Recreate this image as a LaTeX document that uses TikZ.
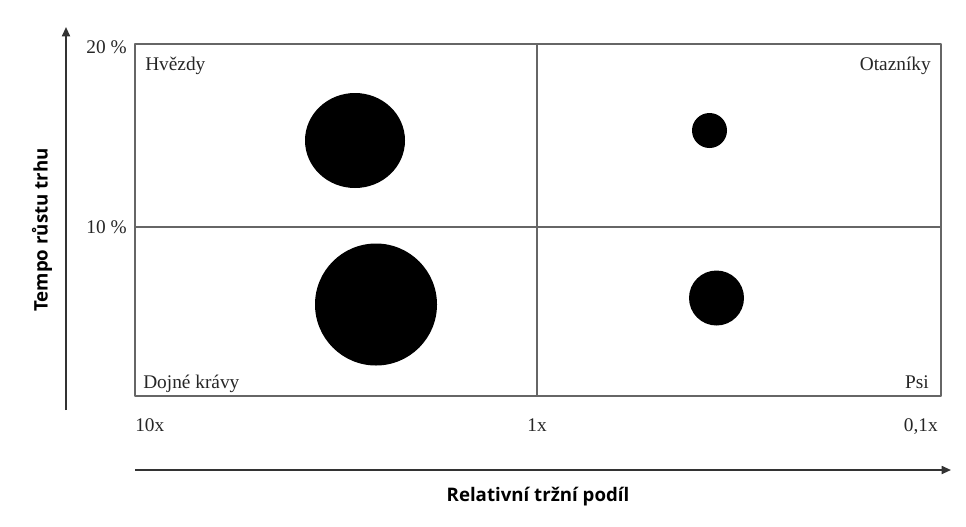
\documentclass[tikz,border=0pt]{standalone}
\usepackage{fontspec}
\setmainfont{Liberation Serif}
\newfontfamily\axisfont{Open Sans}
\usetikzlibrary{arrows.meta}
\begin{document}
\begin{tikzpicture}[x=.75pt,y=-.75pt,line join=round,
    quad/.style={draw=black!60,line width=1.1pt},
    axis/.style={draw=black!80,line width=1.3pt,-{Triangle[length=7pt,width=6pt]}},
    lbl/.style={font=\fontsize{14.5}{16}\selectfont,text=black!85,inner sep=0pt},
    title/.style={font=\axisfont\bfseries\fontsize{14}{16}\selectfont,inner sep=0pt},
    bubble/.style={fill=black}]
  \useasboundingbox (0,0) rectangle (966,526);

  \draw[quad] (135,44) rectangle (941,396) (537,44) -- (537,396) (135,227) -- (941,227);

  \coordinate (ybot) at (66,410);
  \coordinate (ytop) at (66,27);
  \coordinate (xlft) at (135,470);
  \coordinate (xrgt) at (951,470);
  \draw[axis] (ybot) -- (ytop);
  \draw[axis] (xlft) -- (xrgt);

  \node[lbl,anchor=south east] (y20) at (127,54) {20 \%};
  \node[lbl,anchor=east] (y10) at (127,227) {10 \%};
  \node[lbl,anchor=base west] (stars) at (145,70) {Hvězdy};
  \node[lbl,anchor=base east] (quest) at (931,70) {Otazníky};
  \node[lbl,anchor=base west] (cows) at (143,388) {Dojné krávy};
  \node[lbl,anchor=base east] (dogs) at (929,388) {Psi};
  \node[lbl,anchor=base west] (x10) at (135,431) {10x};
  \node[lbl,anchor=base] (x1) at (537,431) {1x};
  \node[lbl,anchor=base east] (x01) at (938,431) {0,1x};

  \node[title] (xtitle) at (538,497) {Relativní tržní podíl};
  \node[title,rotate=90] (ytitle) at (42,230) {Tempo růstu trhu};

  \fill[bubble] (355,140.5) ellipse [x radius=50,y radius=47.5];
  \fill[bubble] (709.5,130.5) circle [radius=17.5];
  \fill[bubble] (376,304.5) circle [radius=61];
  \fill[bubble] (716.5,298) circle [radius=27.5];
\end{tikzpicture}
\end{document}
